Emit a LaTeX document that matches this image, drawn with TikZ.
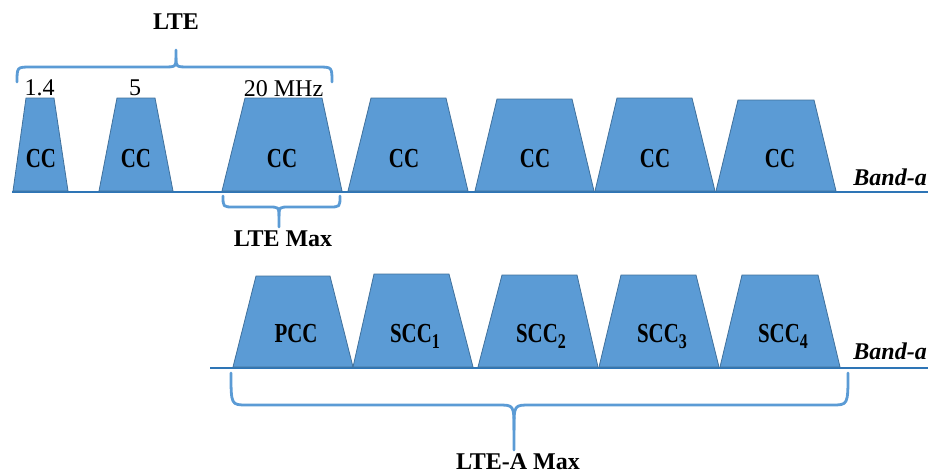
\documentclass[tikz,border=0pt]{standalone}
\usepackage{fontspec}
\setmainfont{Liberation Serif}
\newfontfamily\ccfont[FakeStretch=0.76]{Liberation Serif}
\definecolor{ccfill}{HTML}{5B9BD5}
\definecolor{ccedge}{HTML}{41719C}
\definecolor{bandline}{HTML}{2E75B6}
\definecolor{bracecol}{HTML}{5B9BD5}
\newcommand\ccsub[1]{\raisebox{-6pt}{\fontsize{21}{21}\selectfont #1}}
% trapezoid: bottom-left x, bottom-right x, top-left x, top-right x, top y, bottom y
\newcommand\carrier[6]{\path[cc] (#1,#6) -- (#3,#5) -- (#4,#5) -- (#2,#6) -- cycle;}
% brace: x1, x2, xm, y of ends, y of bar, y of tip, corner, cusp y
\newcommand\mybrace[8]{%
  \draw[brace] (#1,#4) .. controls (#1,#5) .. ({#1+#7},#5) -- ({#3-#7},#5)
     .. controls (#3,#5) .. (#3,#8) -- (#3,#6);
  \draw[brace] (#3,#8) .. controls (#3,#5) .. ({#3+#7},#5) -- ({#2-#7},#5)
     .. controls (#2,#5) .. (#2,#4);}
\begin{document}
\begin{tikzpicture}[x=1pt,y=-1pt]
\useasboundingbox (0,0) rectangle (928,474);
\tikzset{
  cc/.style={fill=ccfill, draw=ccedge, line width=0.8pt, line join=miter},
  bandln/.style={draw=bandline, line width=2.2pt},
  brace/.style={draw=bracecol, line width=2.8pt, line cap=round, line join=round},
  cclabel/.style={anchor=base, inner sep=0pt, font=\fontsize{27.5}{30}\selectfont\ccfont\bfseries},
  boldlabel/.style={anchor=base, inner sep=0pt, font=\fontsize{24}{28}\selectfont\bfseries},
  numlabel/.style={anchor=base, inner sep=0pt, font=\fontsize{24}{28}\selectfont},
  bandlabel/.style={anchor=base east, inner sep=0pt, font=\fontsize{24}{28}\selectfont\bfseries\itshape},
}
% ---------- top band ----------
\coordinate (ta) at (12,192);
\coordinate (tb) at (928,192);
\draw[bandln] (ta) -- (tb);
\carrier{13}{68}{26}{54}{98}{191}
\carrier{99}{173}{117}{155}{98}{191}
\carrier{222}{342}{245}{322}{98}{191}
\carrier{348}{468}{371}{446}{98}{191}
\carrier{475}{594}{497}{572}{99}{191}
\carrier{595}{715}{617}{692}{98}{191}
\carrier{716}{836}{738}{814}{100}{191}
\node[cclabel] (c1) at (41,167) {CC};
\node[cclabel] (c2) at (136,167) {CC};
\node[cclabel] (c3) at (282,167) {CC};
\node[cclabel] (c4) at (404,167) {CC};
\node[cclabel] (c5) at (535,167) {CC};
\node[cclabel] (c6) at (655,167) {CC};
\node[cclabel] (c7) at (780,167) {CC};
\node[bandlabel] (ba1) at (927,185) {Band-a};
\node[numlabel] (n1) at (39.5,95) {1.4};
\node[numlabel] (n2) at (135,95) {5};
\node[numlabel] (n3) at (283.5,96) {20 MHz};
\mybrace{17}{332}{176}{82}{67}{50}{14}{58}
\node[boldlabel] (lte) at (176,29) {LTE};
\mybrace{223}{340}{279}{196}{207}{227}{11}{216}
\node[boldlabel] (ltemax) at (283,246) {LTE Max};
% ---------- bottom band ----------
\coordinate (ba) at (210,368);
\coordinate (bb) at (928,368);
\draw[bandln] (ba) -- (bb);
\carrier{233}{353}{256}{330}{276}{367}
\carrier{353}{473}{374}{449}{274}{367}
\carrier{478}{598}{502}{577}{275}{367}
\carrier{599}{719}{621}{696}{275}{367}
\carrier{720}{840}{742}{818}{275}{367}
\node[cclabel] (p0) at (296,342) {PCC};
\node[cclabel] (s1) at (415,342) {SCC\ccsub{1}};
\node[cclabel] (s2) at (541,342) {SCC\ccsub{2}};
\node[cclabel] (s3) at (662,342) {SCC\ccsub{3}};
\node[cclabel] (s4) at (783,342) {SCC\ccsub{4}};
\node[bandlabel] (ba2) at (927,359) {Band-a};
\mybrace{231}{848}{514}{373}{405}{450}{16}{430}
\node[boldlabel] (lteamax) at (518,469) {LTE-A Max};
\end{tikzpicture}
\end{document}
